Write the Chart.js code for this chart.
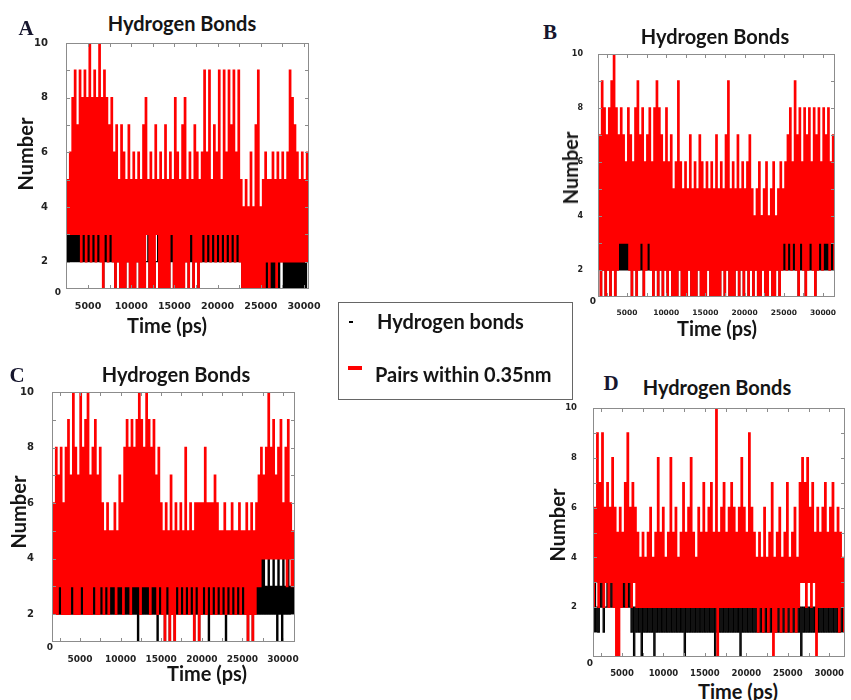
<!DOCTYPE html>
<html>
<head>
<meta charset="utf-8">
<script src="https://cdn.jsdelivr.net/npm/chart.js@4.4.1/dist/chart.umd.min.js"></script>
<style>
  body { margin: 0; width: 851px; height: 700px; position: relative; overflow: hidden; background: #fff; font-family: Lato, "Open Sans", sans-serif; }
  canvas { position: absolute; }
  .t { position: absolute; transform: translate(-50%, -50%); white-space: nowrap; font-weight: 700; color: #151515; font-size: 20px; }
  .v { position: absolute; transform: translate(-50%, -50%) rotate(-90deg); white-space: nowrap; font-weight: 700; color: #151515; font-size: 20px; }
  .lt { position: absolute; transform: translate(-50%, -50%); font-family: "Liberation Serif", serif; font-weight: 700; font-size: 21px; color: #16162e; }
  .z { position: absolute; transform: translate(-50%, -50%); font-family: "DejaVu Sans", sans-serif; font-weight: 700; font-size: 9px; color: #222; }
  #legend { position: absolute; left: 338px; top: 302px; width: 233px; height: 96px; border: 1.5px solid #666; }
  .lg { position: absolute; transform: translateY(-50%); white-space: nowrap; font-weight: 700; font-size: 20px; color: #151515; }
</style>
</head>
<body>

<canvas id="cA"></canvas>
<canvas id="cB"></canvas>
<canvas id="cC"></canvas>
<canvas id="cD"></canvas>

<div class="lt" style="left:26px;top:28px">A</div>
<div class="lt" style="left:550px;top:32px">B</div>
<div class="lt" style="left:17px;top:375px">C</div>
<div class="lt" style="left:611px;top:383px">D</div>

<div class="t" style="left:182px;top:23px">Hydrogen Bonds</div>
<div class="t" style="left:715px;top:36px">Hydrogen Bonds</div>
<div class="t" style="left:176px;top:374px">Hydrogen Bonds</div>
<div class="t" style="left:717px;top:387px">Hydrogen Bonds</div>

<div class="v" style="left:25px;top:154px">Number</div>
<div class="v" style="left:570px;top:168px">Number</div>
<div class="v" style="left:18px;top:512px">Number</div>
<div class="v" style="left:557px;top:525px">Number</div>

<div class="t" style="left:167px;top:325px">Time (ps)</div>
<div class="t" style="left:717px;top:328px">Time (ps)</div>
<div class="t" style="left:207px;top:673px">Time (ps)</div>
<div class="t" style="left:738px;top:691px">Time (ps)</div>

<div class="z" style="left:58px;top:292px">0</div>
<div class="z" style="left:593px;top:301px">0</div>
<div class="z" style="left:50px;top:647px">0</div>
<div class="z" style="left:590px;top:663px">0</div>

<div id="legend"></div>
<div style="position:absolute;left:349px;top:321px;width:4px;height:2px;background:#000"></div>
<div class="lg" style="left:377px;top:321px">Hydrogen bonds</div>
<div style="position:absolute;left:348px;top:366px;width:14px;height:4px;background:#ff0000"></div>
<div class="lg" style="left:375px;top:374px">Pairs within 0.35nm</div>

<script>
// tick labels
const xTickTimes = [5000, 10000, 15000, 20000, 25000, 30000];
const yTickValues = [2, 4, 6, 8, 10];

// time span covered by each panel (ps)
const spanA = [2450, 30580];
const spanB = [1300, 31530];
const spanC = [1550, 31480];
const spanD = [1500, 31900];

// y ranges
const yRangeA = [1, 10];
const yRangeB = [1, 10];
const yRangeC = [1, 10];
const yRangeD = [0, 10];

// A
const pairsA = [
  3,5, 3,6, 3,8, 3,9, 3,7, 3,9, 2,8, 3,9, 2,8, 3,10,
  2,8, 3,9, 2,8, 3,10, 2,8, 1,9, 3,8, 2,7, 3,8, 2,6,
  1,7, 2,5, 1,7, 1,6, 1,5, 2,7, 1,5, 1,6, 1,5, 2,6,
  1,5, 1,7, 1,8, 3,5, 1,6, 1,5, 1,7, 3,5, 1,6, 1,5,
  1,7, 1,5, 1,6, 3,5, 1,8, 1,6, 1,5, 1,7, 1,8, 2,5,
  1,6, 3,5, 1,7, 2,6, 1,5, 2,6, 3,9, 2,6, 3,9, 2,5,
  3,7, 2,6, 3,9, 2,5, 3,9, 2,6, 3,9, 2,7, 3,9, 2,6,
  3,9, 2,5, 1,4, 1,5, 1,4, 1,6, 1,4, 1,7, 1,9, 1,4,
  1,5, 1,6, 2,5, 1,5, 2,6, 2,5, 1,6, 2,5, 2,6, 2,5,
  2,6, 2,9, 2,8, 2,7, 2,6, 2,5, 2,6, 2,5, 2,6, 2,5
];
const bondsA = [
  2,3, 2,3, 2,3, 2,3, 2,3, 2,3, 2,3, 2,3, 2,3, 2,3,
  2,3, 2,3, 2,3, 2,3, 2,3, 1,3, 2,3, 2,3, 2,3, 2,3,
  1,3, 2,3, 1,3, 2,3, 1,2, 2,3, 1,3, 2,3, 1,2, 2,3,
  1,3, 2,3, 1,2, 2,3, 1,3, 2,3, 1,2, 2,3, 1,3, 2,3,
  1,2, 2,3, 1,3, 2,3, 1,2, 2,3, 1,3, 2,3, 1,2, 2,3,
  1,3, 2,3, 1,2, 2,3, 1,3, 2,3, 2,3, 2,3, 2,3, 2,3,
  2,3, 2,3, 2,3, 2,3, 2,3, 2,3, 2,3, 2,3, 2,3, 2,3,
  2,3, 2,3, 1,3, 1,2, 1,3, 1,2, 1,3, 1,2, 1,3, 1,2,
  1,3, 1,2, 1,3, 1,2, 1,3, 1,2, 1,3, 1,2, 2,3, 1,2,
  1,2, 1,2, 1,2, 1,2, 1,2, 1,2, 1,2, 1,2, 1,2, 2,3
];

// B
const pairsB = [
  2,7, 1,9, 2,8, 1,7, 2,8, 1,9, 2,10, 1,8, 2,7, 3,8,
  3,7, 3,6, 3,8, 2,7, 1,6, 2,8, 1,9, 2,7, 3,8, 1,6,
  2,7, 3,8, 2,6, 1,8, 2,9, 1,8, 2,7, 1,6, 2,8, 1,6,
  2,7, 1,5, 1,6, 1,9, 2,6, 1,5, 1,6, 1,5, 2,7, 1,5,
  1,6, 1,5, 2,7, 1,6, 1,5, 1,6, 2,5, 1,6, 1,5, 1,7,
  1,5, 1,6, 2,5, 1,7, 2,9, 1,5, 1,6, 1,5, 2,7, 1,5,
  2,6, 1,5, 2,6, 1,7, 2,5, 1,4, 2,5, 1,6, 1,4, 2,5,
  1,6, 1,4, 2,5, 1,6, 1,4, 2,5, 1,6, 2,5, 3,6, 2,7,
  3,8, 2,6, 3,9, 2,7, 1,8, 3,6, 2,8, 1,7, 2,8, 3,6,
  2,8, 1,7, 2,8, 3,6, 2,8, 3,7, 3,8, 2,6, 3,7, 2,6
];
const bondsB = [
  2,3, 1,3, 2,3, 1,3, 2,3, 1,3, 2,3, 1,3, 2,3, 2,3,
  2,3, 2,3, 2,3, 2,3, 1,3, 2,3, 1,3, 2,3, 2,3, 1,3,
  2,3, 2,3, 2,3, 1,3, 2,3, 1,3, 2,3, 1,3, 2,3, 1,3,
  2,3, 1,3, 2,3, 1,3, 2,3, 1,3, 2,3, 1,3, 2,3, 1,3,
  2,3, 1,3, 2,3, 1,3, 2,3, 1,3, 2,3, 1,3, 2,3, 1,3,
  2,3, 1,3, 2,3, 1,3, 2,3, 1,3, 2,3, 1,3, 2,3, 1,3,
  2,3, 1,3, 2,3, 1,3, 2,3, 1,3, 2,3, 1,3, 1,4, 2,4,
  1,3, 1,3, 2,3, 1,3, 1,3, 2,3, 1,3, 2,3, 2,3, 2,3,
  2,3, 2,3, 2,3, 2,3, 1,3, 2,3, 2,3, 1,3, 2,3, 2,3,
  2,3, 1,3, 2,3, 2,3, 2,3, 2,3, 2,3, 2,3, 2,3, 2,3
];

// C
const pairsC = [
  2,6, 2,8, 2,7, 3,8, 2,6, 2,8, 2,9, 2,7, 3,10, 2,8,
  2,7, 2,10, 3,8, 2,9, 2,10, 2,7, 2,8, 3,9, 2,7, 2,8,
  3,6, 2,5, 3,6, 2,5, 3,5, 3,6, 2,5, 3,7, 3,6, 2,8,
  3,9, 3,8, 2,9, 3,8, 3,9, 3,10, 2,9, 3,8, 3,10, 3,9,
  2,8, 3,9, 3,7, 2,8, 3,6, 2,5, 1,6, 3,5, 1,7, 2,5,
  1,6, 3,5, 2,6, 3,5, 2,8, 3,5, 2,6, 3,5, 1,6, 3,6,
  1,6, 2,6, 3,8, 2,6, 3,6, 2,6, 3,7, 2,6, 3,5, 2,5,
  3,6, 2,5, 3,5, 2,6, 3,5, 2,5, 3,6, 2,5, 3,5, 2,6,
  1,5, 2,6, 1,5, 2,6, 3,7, 3,8, 4,7, 4,8, 4,10, 4,8,
  4,9, 4,7, 4,8, 4,9, 4,6, 4,8, 3,9, 4,6, 3,5, 3,5
];
const bondsC = [
  2,3, 2,3, 2,3, 2,3, 2,3, 2,3, 2,3, 2,3, 2,3, 2,3,
  2,3, 2,3, 2,3, 2,3, 2,3, 2,3, 2,3, 2,3, 2,3, 2,3,
  2,3, 2,3, 2,3, 2,3, 2,3, 2,3, 2,3, 2,3, 2,3, 2,3,
  2,3, 2,3, 2,3, 2,3, 2,3, 1,3, 2,3, 2,3, 2,3, 2,4,
  2,3, 2,3, 2,3, 1,3, 2,3, 2,3, 1,3, 2,3, 1,3, 2,3,
  1,3, 2,3, 2,3, 2,3, 2,3, 2,3, 2,3, 2,3, 1,3, 2,3,
  1,3, 2,3, 2,3, 2,3, 1,3, 2,3, 2,3, 2,3, 2,3, 2,3,
  2,3, 1,3, 2,3, 2,3, 2,3, 2,3, 2,3, 2,3, 2,3, 2,3,
  1,3, 2,3, 1,3, 2,3, 2,3, 2,4, 2,4, 2,3, 2,4, 2,3,
  2,4, 2,3, 1,4, 2,3, 1,4, 2,3, 2,4, 2,3, 2,3, 2,3
];

// D
const pairsD = [
  2,6, 3,9, 2,7, 3,9, 2,6, 3,7, 2,6, 3,8, 2,6, 0,5,
  0,6, 2,5, 3,7, 2,9, 3,6, 2,7, 3,6, 2,5, 2,4, 2,5,
  2,4, 2,5, 2,6, 2,4, 2,5, 2,8, 2,5, 2,6, 2,4, 2,5,
  2,8, 2,5, 2,6, 2,4, 2,5, 2,7, 2,5, 2,6, 2,8, 2,5,
  2,4, 2,6, 2,5, 2,7, 2,5, 2,6, 2,7, 2,5, 2,10, 0,5,
  2,6, 2,7, 2,5, 2,6, 2,7, 2,6, 2,5, 2,6, 2,8, 2,6,
  2,5, 2,9, 2,6, 2,5, 2,4, 1,5, 2,4, 1,6, 2,4, 1,5,
  2,7, 0,4, 1,5, 2,6, 1,4, 2,5, 1,7, 2,4, 1,5, 2,6,
  1,4, 2,7, 3,8, 3,7, 2,8, 3,6, 2,7, 3,5, 0,6, 2,5,
  2,6, 2,7, 2,5, 2,6, 2,7, 2,5, 2,6, 1,5, 2,4, 1,6
];
const bondsD = [
  1,3, 1,2, 1,3, 2,3, 1,2, 2,3, 2,3, 2,3, 2,3, 2,3,
  2,3, 2,3, 2,3, 2,3, 2,3, 1,2, 0,2, 1,2, 1,2, 0,2,
  1,2, 1,2, 1,2, 1,2, 0,2, 1,2, 1,2, 1,2, 1,2, 1,2,
  1,2, 1,2, 1,2, 1,2, 1,2, 1,2, 0,2, 1,2, 1,2, 1,2,
  1,2, 1,2, 1,2, 1,2, 1,2, 1,2, 1,2, 1,2, 0,2, 1,2,
  1,2, 1,2, 1,2, 1,2, 1,2, 1,2, 1,2, 1,2, 0,2, 1,2,
  1,2, 1,2, 1,2, 1,2, 1,2, 1,3, 1,2, 1,2, 1,2, 1,2,
  1,2, 1,2, 1,2, 1,2, 1,2, 1,2, 1,2, 1,2, 1,2, 1,2,
  1,2, 1,2, 0,2, 1,2, 1,2, 1,2, 1,2, 1,2, 1,2, 1,2,
  1,2, 1,2, 1,2, 1,2, 1,2, 1,3, 1,2, 1,2, 1,2, 1,2
];

// layout of the four panels (plot box in page pixels)
const AXIS_W = 40, AXIS_H = 22, PAD_T = 8, PAD_R = 24;
const panels = [
  { id: 'cA', pairs: pairsA, bonds: bondsA, span: spanA, yr: yRangeA, box: { l: 66, t: 43, r: 309, b: 289 }, xFont: 9.5, yFont: 10, yPad: 10 },
  { id: 'cB', pairs: pairsB, bonds: bondsB, span: spanB, yr: yRangeB, box: { l: 598, t: 54, r: 835, b: 297 }, xFont: 7.5, yFont: 8, yPad: 7 },
  { id: 'cC', pairs: pairsC, bonds: bondsC, span: spanC, yr: yRangeC, box: { l: 52, t: 392, r: 295, b: 642 }, xFont: 9, yFont: 10, yPad: 10 },
  { id: 'cD', pairs: pairsD, bonds: bondsD, span: spanD, yr: yRangeD, box: { l: 593, t: 408, r: 845, b: 657 }, xFont: 8.5, yFont: 8.5, yPad: 8 }
];

function toPoints(values, span) {
  const step = (span[1] - span[0]) / (values.length - 1);
  return values.map((v, i) => ({ x: span[0] + i * step, y: v }));
}

// box around the plot plus inward ticks
const framePlugin = {
  id: 'frame',
  afterDatasetsDraw(chart) {
    const { ctx, chartArea: a, scales: { x, y } } = chart;
    ctx.save();
    ctx.strokeStyle = '#8c8c8c';
    ctx.lineWidth = 1;
    ctx.strokeRect(a.left + 0.5, a.top + 0.5, a.right - a.left - 1, a.bottom - a.top - 1);
    ctx.beginPath();
    for (let v = Math.ceil(x.min / 2500) * 2500; v < x.max; v += 2500) {
      const px = Math.round(x.getPixelForValue(v)) + 0.5;
      ctx.moveTo(px, a.bottom); ctx.lineTo(px, a.bottom - 4);
      ctx.moveTo(px, a.top); ctx.lineTo(px, a.top + 4);
    }
    for (let v = Math.ceil(y.min) + 1; v < y.max; v++) {
      const py = Math.round(y.getPixelForValue(v)) + 0.5;
      ctx.moveTo(a.left, py); ctx.lineTo(a.left + 4, py);
      ctx.moveTo(a.right, py); ctx.lineTo(a.right - 4, py);
    }
    ctx.stroke();
    ctx.restore();
  }
};

panels.forEach(p => {
  const cv = document.getElementById(p.id);
  cv.width = p.box.r - p.box.l + AXIS_W + PAD_R;
  cv.height = p.box.b - p.box.t + PAD_T + AXIS_H;
  cv.style.left = (p.box.l - AXIS_W) + 'px';
  cv.style.top = (p.box.t - PAD_T) + 'px';

  new Chart(cv, {
    type: 'line',
    data: {
      // first dataset is painted on top, so red goes first
      datasets: [{
        label: 'Pairs within 0.35nm',
        data: toPoints(p.pairs, p.span),
        borderColor: '#ff0000',
        borderWidth: 1.5,
        stepped: true,
        pointRadius: 0
      }, {
        label: 'Hydrogen bonds',
        data: toPoints(p.bonds, p.span),
        borderColor: '#000000',
        borderWidth: 1.2,
        stepped: true,
        pointRadius: 0
      }]
    },
    options: {
      responsive: false,
      animation: false,
      devicePixelRatio: 1,
      layout: { padding: { top: PAD_T, right: PAD_R, left: 0, bottom: 0 } },
      plugins: { legend: { display: false }, tooltip: { enabled: false } },
      scales: {
        x: {
          type: 'linear',
          min: p.span[0],
          max: p.span[1],
          grid: { display: false },
          border: { display: false },
          ticks: {
            padding: 4,
            maxRotation: 0,
            autoSkip: false,
            color: '#222',
            font: { family: 'DejaVu Sans', weight: 'bold', size: p.xFont },
            callback: v => String(v)
          },
          afterBuildTicks: s => { s.ticks = xTickTimes.map(v => ({ value: v })); },
          afterFit: s => { s.height = AXIS_H; s.paddingLeft = 0; s.paddingRight = 0; }
        },
        y: {
          min: p.yr[0],
          max: p.yr[1],
          grid: { display: false },
          border: { display: false },
          ticks: {
            padding: p.yPad,
            color: '#222',
            font: { family: 'DejaVu Sans', weight: 'bold', size: p.yFont },
            callback: v => String(v)
          },
          afterBuildTicks: s => { s.ticks = yTickValues.map(v => ({ value: v })); },
          afterFit: s => { s.width = AXIS_W; s.paddingTop = 0; s.paddingBottom = 0; }
        }
      }
    },
    plugins: [framePlugin]
  });
});
</script>
</body>
</html>
